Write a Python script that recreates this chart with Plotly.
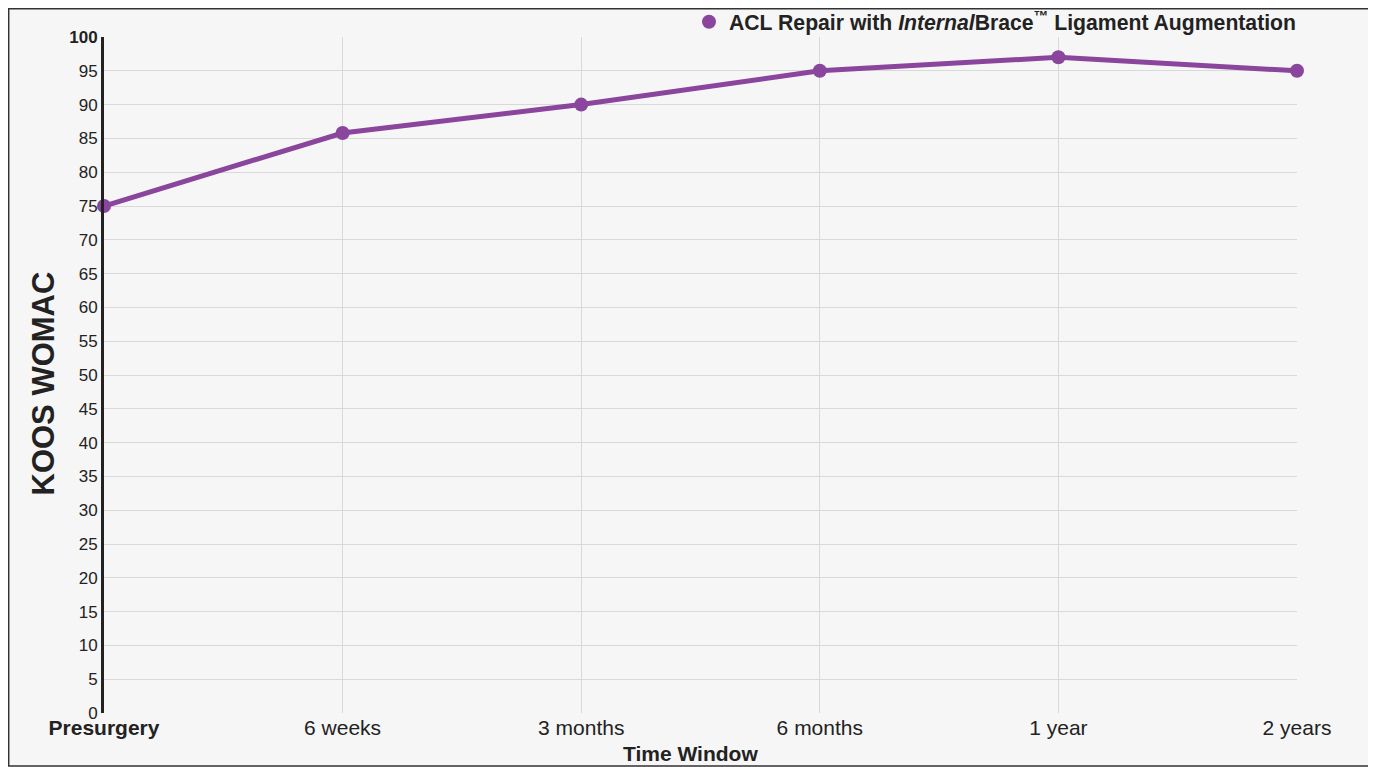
import plotly.graph_objects as go

categories = ["Presurgery", "6 weeks", "3 months", "6 months", "1 year", "2 years"]
values = [75, 85.8, 90, 95, 97, 95]
series_name = "ACL Repair with <i>Internal</i>Brace<sup>\u2122</sup> Ligament Augmentation"
y_ticks = list(range(0, 101, 5))
x_title = "Time Window"
y_title = "KOOS WOMAC"

# page has an 8px body margin, so figure is sized to the visible area
W, H = 1368, 759
L, R, T, B = 96, 79, 29, 54
PW, PH = W - L - R, H - T - B
purple = "#8a459d"

fig = go.Figure()
fig.add_trace(go.Scatter(
    x=list(range(len(categories))), y=values, mode="lines+markers",
    showlegend=False,
    line=dict(color=purple, width=5),
    marker=dict(color=purple, size=14),
    cliponaxis=False,
))
fig.add_trace(go.Scatter(
    x=[None], y=[None], mode="markers", name="<b>" + series_name + "</b>",
    marker=dict(color=purple, size=14), showlegend=True,
))

ytext = [("<b>%d</b>" % v) if v == 100 else str(v) for v in y_ticks]
xtext = [("<b>%s</b>" % c) if i == 0 else c for i, c in enumerate(categories)]

fig.update_layout(
    width=W, height=H,
    margin=dict(l=L, r=R, t=T, b=B, autoexpand=False),
    paper_bgcolor="#f6f6f6", plot_bgcolor="#f6f6f6",
    font=dict(family="Liberation Sans, Arial, sans-serif", color="#222", size=17),
    showlegend=True,
    legend=dict(x=1 + 4 / PW, xanchor="right", y=1 + 15 / PH, yanchor="middle",
                orientation="h",
                font=dict(size=21.2, color="#222"), bgcolor="rgba(0,0,0,0)",
                itemwidth=30, tracegroupgap=0),
    xaxis=dict(range=[0, len(categories) - 1], tickmode="array",
               tickvals=list(range(len(categories))), ticktext=xtext,
               showgrid=True, gridcolor="#d9d9d9", gridwidth=1,
               zeroline=False, showline=False, ticks="",
               tickfont=dict(size=21)),
    yaxis=dict(range=[0, 100], tickmode="array", tickvals=y_ticks, ticktext=ytext,
               showgrid=True, gridcolor="#d9d9d9", gridwidth=1,
               zeroline=False, showline=True, linecolor="#222", linewidth=3,
               ticks="", tickfont=dict(size=17), ticklabelstandoff=0),
    annotations=[
        dict(text="<b>%s</b>" % x_title, xref="paper", yref="paper",
             x=(682 - L) / PW, y=(H - B - 745) / PH, xanchor="center", yanchor="middle",
             showarrow=False, font=dict(size=21, color="#222")),
        dict(text="<b>%s</b>" % y_title, xref="paper", yref="paper", textangle=-90,
             x=(35 - L) / PW, y=(H - B - 375.5) / PH, xanchor="center", yanchor="middle",
             showarrow=False, font=dict(size=31, color="#222")),
    ],
    shapes=[dict(type="rect", xref="paper", yref="paper",
                 x0=(0.7 - L) / PW, x1=(1364 - L) / PW,
                 y0=(H - B - 758) / PH, y1=(H - B - 0.7) / PH,
                 line=dict(color="#333", width=1.5), fillcolor="rgba(0,0,0,0)", layer="below")],
)

fig.write_html("out.html")
